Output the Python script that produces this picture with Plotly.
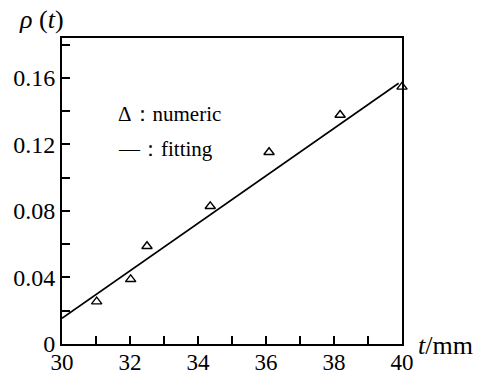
import plotly.graph_objects as go

t_numeric = [31.02, 32.02, 32.5, 34.36, 36.09, 38.18, 40.0]
rho_numeric = [0.0255, 0.0389, 0.0588, 0.0828, 0.1153, 0.1377, 0.1546]
t_fit = [30.0, 39.9]
rho_fit = [0.0155, 0.1568]
x_ticks = [30, 32, 34, 36, 38, 40]
y_ticks = [0, 0.04, 0.08, 0.12, 0.16]
y_tick_labels = ["0", "0.04", "0.08", "0.12", "0.16"]

FONT = "Liberation Serif"

fig = go.Figure()
fig.add_trace(go.Scatter(x=t_fit, y=rho_fit, mode="lines",
                         line=dict(color="black", width=1.6), showlegend=False,
                         cliponaxis=False))
fig.add_trace(go.Scatter(x=t_numeric, y=rho_numeric, mode="markers",
                         marker=dict(symbol="triangle-up-open", size=9,
                                     color="black", line=dict(width=1.4)),
                         showlegend=False, cliponaxis=False))

axis_common = dict(showgrid=False, zeroline=False, showline=True, linecolor="black",
                   linewidth=2, mirror=True, ticks="inside", ticklen=8, tickwidth=1.5,
                   tickcolor="black", automargin=False)

fig.update_xaxes(range=[30, 40], tickvals=x_ticks, ticktext=[str(v) for v in x_ticks],
                 tickfont=dict(family=FONT, size=23, color="black"),
                 ticklabelstandoff=-4,
                 minor=dict(dtick=1, tick0=30, ticks="inside", ticklen=8, tickwidth=1.5,
                            tickcolor="black", showgrid=False),
                 **axis_common)
fig.update_yaxes(range=[0, 0.184], tickvals=y_ticks, ticktext=y_tick_labels,
                 tickfont=dict(family=FONT, size=24, color="black"),
                 minor=dict(dtick=0.02, tick0=0, ticks="inside", ticklen=8, tickwidth=1.5,
                            tickcolor="black", showgrid=False),
                 **axis_common)

# screen pixel positions of the plot area in the reference
pl, pr, pt, pb = 62, 402, 38, 344


def px2paper(px, py):
    return (px - pl) / (pr - pl), (pb - py) / (pb - pt)


def ann(text, px, py, size):
    x, y = px2paper(px, py)
    return dict(text=text, x=x, y=y, xref="paper", yref="paper", showarrow=False,
                xanchor="left", yanchor="middle",
                font=dict(family=FONT, size=size, color="black"))


fig.update_layout(
    width=487, height=376,
    margin=dict(l=pl, r=487 - pr, t=pt, b=376 - pb, autoexpand=False),
    plot_bgcolor="white", paper_bgcolor="white",
    font=dict(family=FONT, color="black"),
    annotations=[
        ann("<i>ρ</i> (<i>t</i>)", 17, 19, 26),
        ann("<i>t</i>/mm", 416, 345, 26),
        ann("Δ：numeric", 116, 114, 21),
        ann("—：fitting", 116, 149, 21),
    ],
)

fig.write_html("out.html", config={"displayModeBar": False},
               post_script="document.body.style.margin='0';document.body.style.padding='0';")
